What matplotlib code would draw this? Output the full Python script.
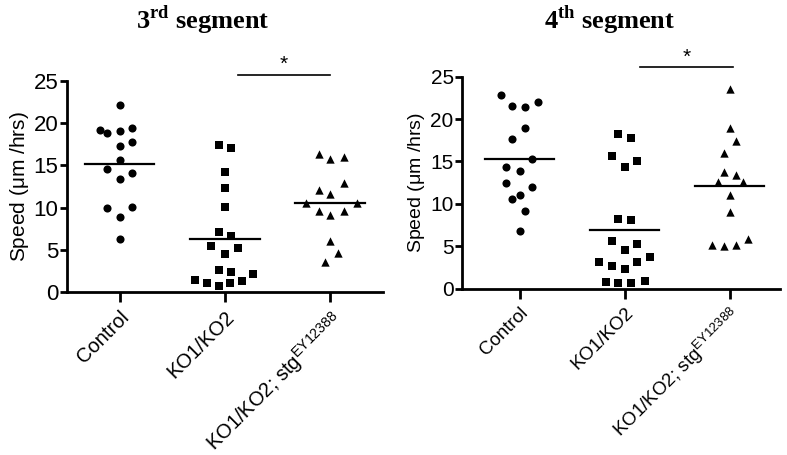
import numpy as np
from matplotlib import pyplot as plt

plt.rcParams['font.family'] = ['Liberation Sans', 'DejaVu Sans']
plt.rcParams['mathtext.fontset'] = 'custom'
plt.rcParams['mathtext.rm'] = 'Liberation Sans'
plt.rcParams['mathtext.it'] = 'Liberation Sans'
plt.rcParams['mathtext.bf'] = 'Liberation Serif:bold'

categories = ["Control", "KO1/KO2", "KO1/KO2; stg$^{\\mathrm{EY12388}}$"]
titles = ["3$^{\\mathbf{rd}}$ segment", "4$^{\\mathbf{th}}$ segment"]

# 3rd segment
seg3_control = [22.1, 19.2, 18.8, 19.1, 19.4, 17.7, 17.3, 15.6, 14.6, 14.1, 13.4, 10.0, 10.1, 8.9, 6.3]
seg3_control_dx = [0, -0.19, -0.12, 0, 0.12, 0.12, 0, 0, -0.12, 0.12, 0, -0.12, 0.12, 0, 0]
seg3_ko = [17.4, 17.0, 14.2, 12.3, 10.1, 7.1, 6.65, 5.5, 4.5, 5.2, 2.6, 2.4, 2.2, 1.5, 1.15, 0.8, 1.05, 1.35]
seg3_ko_dx = [-0.06, 0.06, 0, 0, 0, -0.06, 0.06, -0.13, 0, 0.12, -0.06, 0.06, 0.27, -0.28, -0.17, -0.06, 0.05, 0.165]
seg3_stg = [16.3, 15.7, 16.0, 12.1, 11.6, 12.9, 10.5, 10.5, 9.6, 9.1, 9.6, 6.1, 4.7, 3.6]
seg3_stg_dx = [-0.105, 0, 0.13, -0.11, 0, 0.13, -0.23, 0.25, -0.11, 0, 0.13, 0, 0.07, -0.05]

# 4th segment
seg4_control = [22.8, 21.5, 21.4, 22.0, 19.0, 17.7, 15.3, 14.3, 13.9, 12.5, 12.0, 11.1, 10.6, 9.2, 6.8]
seg4_control_dx = [-0.18, -0.07, 0.05, 0.17, 0.05, -0.07, 0.12, -0.13, 0, -0.13, 0.12, 0, -0.07, 0.05, 0]
seg4_ko = [18.2, 17.8, 15.6, 15.05, 14.3, 8.25, 8.05, 5.6, 5.3, 4.6, 3.7, 3.2, 3.1, 2.7, 2.3, 0.8, 0.65, 0.7, 0.9]
seg4_ko_dx = [-0.06, 0.06, -0.12, 0.12, 0, -0.06, 0.06, -0.12, 0.12, 0, 0.24, -0.24, 0.12, -0.12, 0, -0.18, -0.06, 0.06, 0.19]
seg4_stg = [23.5, 19.0, 17.4, 16.0, 13.8, 13.4, 12.6, 12.6, 11.1, 9.0, 5.15, 5.0, 5.15, 5.9]
seg4_stg_dx = [0, 0, 0.06, -0.05, -0.05, 0.06, -0.11, 0.13, 0, 0, -0.17, -0.05, 0.06, 0.18]

markers = ["o", "s", "^"]
marker_sizes = [34, 30, 36]

panels = [
    dict(groups=[(seg3_control, seg3_control_dx), (seg3_ko, seg3_ko_dx), (seg3_stg, seg3_stg_dx)],
         rect=[0.085, 0.3576, 0.4015, 0.465], xlim=(-0.5, 2.5), sig=(1.12, 2.0, 25.7),
         title_x=0.257, fs=15),
    dict(groups=[(seg4_control, seg4_control_dx), (seg4_ko, seg4_ko_dx), (seg4_stg, seg4_stg_dx)],
         rect=[0.587, 0.3655, 0.404, 0.466], xlim=(-0.55, 2.48), sig=(1.15, 2.03, 26.1),
         title_x=0.775, fs=14),
]

fig = plt.figure(figsize=(7.87, 4.55), dpi=100)

for i, p in enumerate(panels):
    ax = fig.add_axes(p["rect"])
    for j, (vals, dx) in enumerate(p["groups"]):
        x = j + np.array(dx)
        ax.scatter(x, vals, marker=markers[j], s=marker_sizes[j], color="black",
                   linewidths=0, zorder=3)
        m = np.mean(vals)
        ax.plot([j - 0.33, j + 0.33], [m, m], color="black", lw=1.6, zorder=2)

    x0, x1, ys = p["sig"]
    ax.plot([x0, x1], [ys, ys], color="black", lw=1.2, clip_on=False)
    ax.text((x0 + x1) / 2, ys + 0.1, "*", ha="center", va="bottom", fontsize=15,
            clip_on=False)

    ax.set_xlim(*p["xlim"])
    ax.set_ylim(0, 25)
    ax.set_yticks([0, 5, 10, 15, 20, 25])
    ax.set_xticks(range(3))
    ax.set_xticklabels(categories, rotation=45, ha="right", rotation_mode="anchor",
                       fontsize=p["fs"] - 0.5)
    ax.tick_params(axis="y", labelsize=p["fs"] + 1, width=2, length=5, pad=1)
    ax.tick_params(axis="x", width=2, length=7, pad=4)
    for s in ["top", "right"]:
        ax.spines[s].set_visible(False)
    for s in ["left", "bottom"]:
        ax.spines[s].set_linewidth(2)
    ax.set_ylabel("Speed ($\\mu$m /hrs)", fontsize=p["fs"], labelpad=2)

    fig.text(p["title_x"], 0.955, titles[i], ha="center", va="center",
             fontsize=19, fontweight="bold", family="Liberation Serif")

fig.savefig("out.png", dpi=100)
